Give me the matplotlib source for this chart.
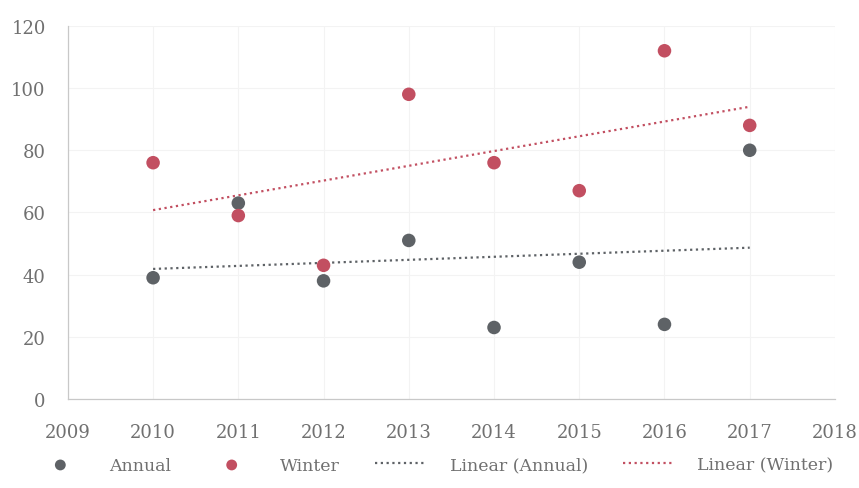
import matplotlib
matplotlib.use('Agg')
from matplotlib import pyplot as plt
import numpy as np

years = [2010, 2011, 2012, 2013, 2014, 2015, 2016, 2017]
annual = [39, 63, 38, 51, 23, 44, 24, 80]
winter = [76, 59, 43, 98, 76, 67, 112, 88]

xticks = [2009, 2010, 2011, 2012, 2013, 2014, 2015, 2016, 2017, 2018]
yticks = [0, 20, 40, 60, 80, 100, 120]

c_ann = '#5e6266'
c_win = '#c24f61'
c_txt = '#707070'

plt.rcParams['font.family'] = ['DejaVu Serif']

fig = plt.figure(figsize=(8.59, 4.89), dpi=100)
ax = fig.add_axes([0.079, 0.182, 0.893, 0.763])

x = np.array(years, dtype=float)
pa = np.polyfit(x, annual, 1)
pw = np.polyfit(x, winter, 1)

ax.scatter(years, annual, s=95, color=c_ann, zorder=3, label='Annual', edgecolors='none')
ax.scatter(years, winter, s=95, color=c_win, zorder=3, label='Winter', edgecolors='none')
ax.plot(x, np.polyval(pa, x), color=c_ann, ls=(0, (1, 1.6)), lw=1.6, zorder=2, label='Linear (Annual)')
ax.plot(x, np.polyval(pw, x), color=c_win, ls=(0, (1, 1.6)), lw=1.6, zorder=2, label='Linear (Winter)')

ax.set_xlim(2009, 2018)
ax.set_ylim(0, 120)
ax.set_xticks(xticks)
ax.set_yticks(yticks)
ax.tick_params(length=0, labelsize=13, colors=c_txt)
ax.tick_params(axis='x', pad=17)
ax.tick_params(axis='y', pad=16)
ax.grid(True, color='#f3f3f3', lw=0.8)
ax.set_axisbelow(True)
for s in ['top', 'right']:
    ax.spines[s].set_visible(False)
for s in ['left', 'bottom']:
    ax.spines[s].set_color('#c8c8c8')
    ax.spines[s].set_linewidth(0.9)

leg = fig.legend(loc='center', bbox_to_anchor=(0.505, 0.047), ncol=4, frameon=False,
                 fontsize=12.5, handlelength=3.0, columnspacing=2.0, handletextpad=1.3,
                 markerscale=0.8)
for t in leg.get_texts():
    t.set_color(c_txt)

plt.savefig('out.png', dpi=100)
plt.close('all')
